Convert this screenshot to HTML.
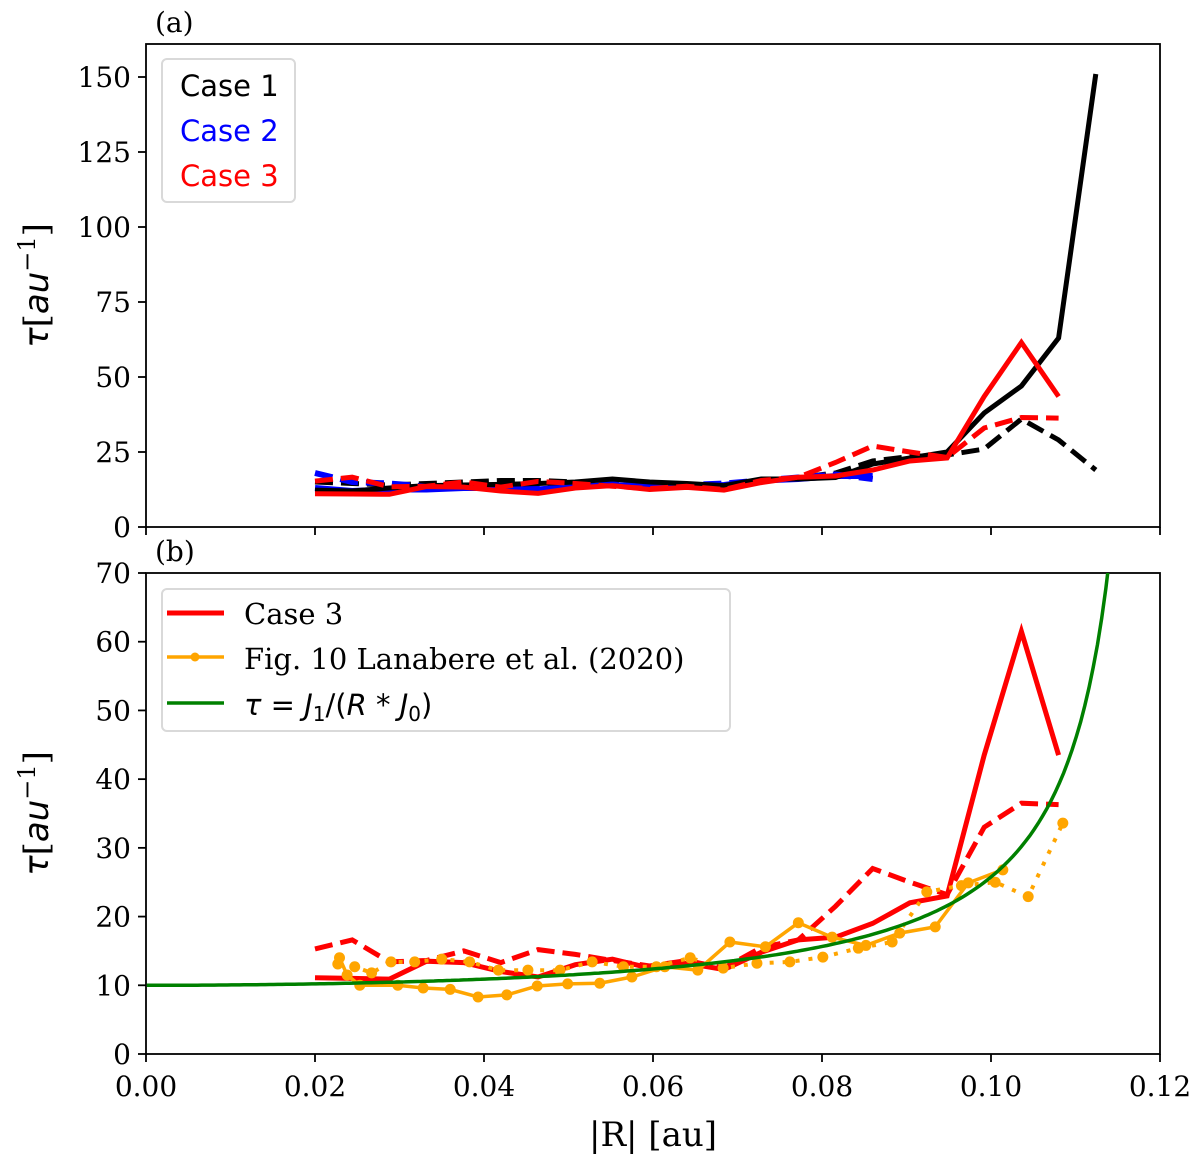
<!DOCTYPE html>
<html><head><meta charset="utf-8"><style>
html,body{margin:0;padding:0;background:#fff;}
svg text{font-family:"DejaVu Serif","Liberation Serif",serif;}
.m{font-family:"DejaVu Sans","Liberation Sans",sans-serif;font-style:italic;}
</style></head><body>
<svg id="chart" width="1200" height="1166" xmlns="http://www.w3.org/2000/svg"></svg>
<script>
const xGridStart = 0.02, xGridStep = 0.0044;
const case1Solid = [12.3,12.0,13.0,13.8,14.0,14.2,14.5,15,16,15,14.5,13.8,16,16,16.5,21,23,25,38,47,63,151];
const case1Dashed = [15,14.5,14,14.5,15,15.5,15.5,15,15,14.5,14,13.5,15.5,16.5,18,22,23.5,24,26,36,29,19];
const case2Solid = [13,12,12.5,12.5,13,13,12.5,13.5,14,13.5,13.5,14,15.5,16,17,17];
const case2Dashed = [18,15,14.5,13.5,13.5,14,13.5,14.5,14.5,13.5,14,14.5,15.5,16.5,17.5,16];
const case3Solid = [11.1,11.0,10.9,13.5,13.3,12.0,11.2,13.0,13.8,12.5,13.2,12.3,14.8,16.6,17.0,19.0,22.0,23.0,43.5,61.5,43.5];
const case3Dashed = [15.3,16.6,13.4,13.6,15.0,13.3,15.2,14.5,13.6,12.8,13.6,12.5,15.5,16.6,21.5,27.0,25.0,23.2,33.0,36.5,36.3];
const lanSolidX = [0.0229,0.0238,0.0253,0.0298,0.0328,0.036,0.0393,0.0427,0.0463,0.0499,0.0537,0.0575,0.0614,0.0653,0.0691,0.0733,0.0772,0.0812,0.0852,0.0892,0.0934,0.0973,0.1014];
const lanSolidY = [14,11.5,10,10,9.6,9.4,8.3,8.6,9.9,10.2,10.3,11.2,12.7,12.2,16.3,15.6,19.1,17.0,15.8,17.6,18.5,24.9,26.8];
const lanDotX = [0.0227,0.0247,0.0267,0.029,0.0318,0.035,0.0383,0.0417,0.0452,0.049,0.0528,0.0565,0.0604,0.0644,0.0683,0.0723,0.0762,0.0801,0.0843,0.0883,0.0924,0.0965,0.1005,0.1044,0.1085];
const lanDotY = [13.1,12.7,11.8,13.4,13.4,13.8,13.4,12.2,12.2,12.2,13.4,12.7,12.7,14,12.5,13.2,13.4,14.1,15.4,16.3,23.6,24.5,25,22.9,33.6];
const xTicks = [0.00,0.02,0.04,0.06,0.08,0.10,0.12];
const yTicksA = [0,25,50,75,100,125,150];
const yTicksB = [0,10,20,30,40,50,60,70];

const svg = document.getElementById('chart');
const NS = 'http://www.w3.org/2000/svg';
function mk(tag, attrs, parent){const e=document.createElementNS(NS,tag);for(const k in attrs)e.setAttribute(k,attrs[k]);(parent||svg).appendChild(e);return e;}
const X0=146,X1=1160;
const xs = v => X0 + (v-0)/(0.12)*(X1-X0);
const A={top:44,bot:527,max:161};
const B={top:573,bot:1054,max:70};
const ysA = v => A.bot - v/A.max*(A.bot-A.top);
const ysB = v => B.bot - v/B.max*(B.bot-B.top);

function clip(id,p){const d=mk('clipPath',{id:id});mk('rect',{x:X0,y:p.top,width:X1-X0,height:p.bot-p.top},d);}
clip('ca',A);clip('cb',B);

function poly(name,xv,yv,ys,color,w,dash,clipId){
  const pts=yv.map((v,i)=>xs(xv[i]).toFixed(1)+','+ys(v).toFixed(1)).join(' ');
  const l=mk('polyline',{points:pts,fill:'none',stroke:color,'stroke-width':w,'stroke-linejoin':'miter','clip-path':'url(#'+clipId+')'});
  if(dash) l.setAttribute('stroke-dasharray',dash);
  
  
  return l;
}
const gx = arr => arr.map((_,i)=>xGridStart+i*xGridStep);

function axes(p,ys,ticks,showXLabels,tag){
  mk('rect',{x:X0,y:p.top,width:X1-X0,height:p.bot-p.top,fill:'none',stroke:'#000','stroke-width':1.8});
  ticks.forEach(t=>{
    const y=ys(t);
    mk('line',{x1:X0-8,x2:X0,y1:y,y2:y,stroke:'#000','stroke-width':1.8});
    const tx=mk('text',{x:X0-15,y:y+10,'font-size':28,'text-anchor':'end'});tx.textContent=t;
    
    
  });
  xTicks.forEach(t=>{
    const x=xs(t);
    mk('line',{x1:x,x2:x,y1:p.bot,y2:p.bot+8,stroke:'#000','stroke-width':1.8});
    if(showXLabels){const tx=mk('text',{x:x,y:p.bot+42,'font-size':28,'text-anchor':'middle'});tx.textContent=t.toFixed(2);
      
      }
  });
  const yl=mk('text',{x:0,y:0,'font-size':34,'text-anchor':'middle',transform:'translate(48,'+((p.top+p.bot)/2)+') rotate(-90)'});
  yl.innerHTML='<tspan class="m">τ</tspan>[<tspan class="m">au</tspan><tspan dy="-13" font-size="24">−1</tspan><tspan dy="13">]</tspan>';
  
  
  const pl=mk('text',{x:155,y:p.top-12,'font-size':28});pl.textContent=tag;
  
  
}

// Panel A
axes(A,ysA,yTicksA,false,'(a)');
poly('case1-dashed',gx(case1Dashed),case1Dashed,ysA,'#000',5,'18,8','ca');
poly('case2-dashed',gx(case2Dashed),case2Dashed,ysA,'#0000ff',6,'18,8','ca');
poly('case2-solid',gx(case2Solid),case2Solid,ysA,'#0000ff',6,null,'ca');
poly('case1-solid',gx(case1Solid),case1Solid,ysA,'#000',5,null,'ca');
poly('case3-dashed',gx(case3Dashed),case3Dashed,ysA,'#ff0000',5,'18,8','ca');
poly('case3-solid',gx(case3Solid),case3Solid,ysA,'#ff0000',5,null,'ca');

const lgA=mk('g',{});
mk('rect',{x:162,y:59,width:133,height:143,rx:5,fill:'#fff',stroke:'#d9d9d9','stroke-width':2},lgA);
[['Case 1','#000'],['Case 2','#0000ff'],['Case 3','#ff0000']].forEach((e,i)=>{
  const t=mk('text',{x:180,y:96+i*45,'font-size':29,fill:e[1],style:'font-family:"DejaVu Sans","Liberation Sans",sans-serif'},lgA);t.textContent=e[0];
  
});

// Panel B
axes(B,ysB,yTicksB,true,'(b)');
function bess(x,n){let s=0;for(let k=0;k<30;k++){let f1=1;for(let j=2;j<=k;j++)f1*=j;let f2=f1;for(let j=k+1;j<=k+n;j++)f2*=j;s+=Math.pow(-1,k)*Math.pow(x/2,2*k+n)/(f1*f2);}return s;}
const kTheory=20;
const gxs=[],gys=[];
for(let r=0.0001;r<0.1185;r+=0.0005){const v=bess(kTheory*r,1)/(r*bess(kTheory*r,0));if(v>90||v<0)break;gxs.push(r);gys.push(v);}
poly('case3-dashed-b',gx(case3Dashed),case3Dashed,ysB,'#ff0000',5,'18,8','cb');
poly('case3-solid-b',gx(case3Solid),case3Solid,ysB,'#ff0000',5,null,'cb');
poly('lanabere-solid',lanSolidX,lanSolidY,ysB,'#ffa500',3.5,null,'cb');
poly('lanabere-dotted',lanDotX,lanDotY,ysB,'#ffa500',4,'4,9','cb');
[[lanSolidX,lanSolidY],[lanDotX,lanDotY]].forEach(s=>s[1].forEach((v,i)=>{
  const c=mk('circle',{cx:xs(s[0][i]),cy:ysB(v),r:5.5,fill:'#ffa500'});
  
}));
poly('theory-curve',gxs,gys,ysB,'#008000',3.5,null,'cb');

const lgB=mk('g',{});
mk('rect',{x:162,y:589,width:568,height:142,rx:5,fill:'#fff',stroke:'#d9d9d9','stroke-width':2},lgB);
mk('line',{x1:167,x2:224,y1:613,y2:613,stroke:'#ff0000','stroke-width':5},lgB);
mk('line',{x1:167,x2:224,y1:657,y2:657,stroke:'#ffa500','stroke-width':3.5},lgB);
mk('circle',{cx:195,cy:657,r:4.5,fill:'#ffa500'},lgB);
mk('line',{x1:167,x2:224,y1:703,y2:703,stroke:'#008000','stroke-width':3.5},lgB);
const t1=mk('text',{x:244,y:624,'font-size':29},lgB);t1.textContent='Case 3';

const t2=mk('text',{x:244,y:669,'font-size':29},lgB);t2.textContent='Fig. 10 Lanabere et al. (2020)';

const t3=mk('text',{x:244,y:715,'font-size':29},lgB);
t3.innerHTML='<tspan class="m">τ</tspan><tspan style="font-family:\'DejaVu Sans\',sans-serif"> = </tspan><tspan class="m">J</tspan><tspan style="font-family:\'DejaVu Sans\',sans-serif" dy="6" font-size="20">1</tspan><tspan style="font-family:\'DejaVu Sans\',sans-serif" dy="-6">/(</tspan><tspan class="m">R</tspan><tspan style="font-family:\'DejaVu Sans\',sans-serif"> * </tspan><tspan class="m">J</tspan><tspan style="font-family:\'DejaVu Sans\',sans-serif" dy="6" font-size="20">0</tspan><tspan style="font-family:\'DejaVu Sans\',sans-serif" dy="-6">)</tspan>';


const xl=mk('text',{x:653,y:1146,'font-size':34,'text-anchor':'middle'});xl.textContent='|R| [au]';

</script>
</body></html>
